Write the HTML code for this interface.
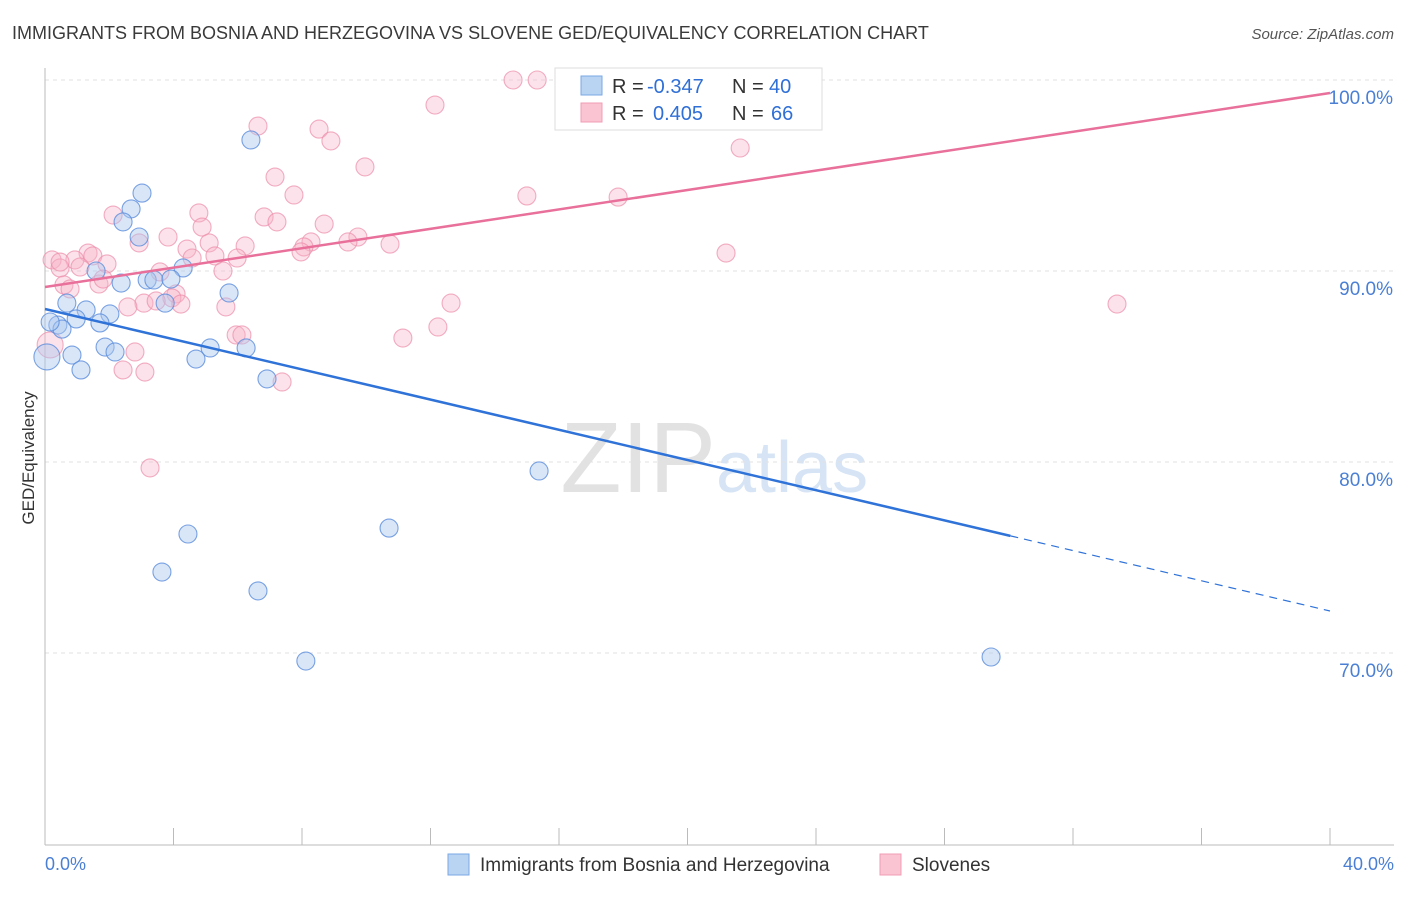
<!DOCTYPE html>
<html><head><meta charset="utf-8"><style>
body{margin:0;background:#fff;font-family:"Liberation Sans",sans-serif}
svg text{font-family:"Liberation Sans",sans-serif}
</style></head><body>
<svg id="c" width="1406" height="892">
<text x="12" y="39" font-size="18" fill="#3a3a3a">IMMIGRANTS FROM BOSNIA AND HERZEGOVINA VS SLOVENE GED/EQUIVALENCY CORRELATION CHART</text>
<text x="1394" y="39" font-size="15" fill="#555" font-style="italic" text-anchor="end">Source: ZipAtlas.com</text>
<text x="34" y="458" font-size="17" fill="#333" text-anchor="middle" transform="rotate(-90 34 458)">GED/Equivalency</text>
<text x="716" y="492" font-size="100" fill="#e2e2e2" font-family="Liberation Serif" text-anchor="end">ZIP</text>
<text x="716" y="492" font-size="72" fill="#d6e4f5">atlas</text>
<g id="grid"></g><g id="marks"></g><g id="lines"></g>
<g>
<rect x="555" y="68" width="267" height="62" fill="#fff" stroke="#ddd"/>
<rect x="581" y="76" width="21" height="19" fill="#b9d3f3" stroke="#7aa8e6"/>
<rect x="581" y="103" width="21" height="19" fill="#fac4d3" stroke="#f19db6"/>
<text x="612" y="93" font-size="20" fill="#333">R = <tspan x="647" fill="#2f6fd6">-0.347</tspan></text>
<text x="732" y="93" font-size="20" fill="#333">N = <tspan x="769" fill="#2f6fd6">40</tspan></text>
<text x="612" y="120" font-size="20" fill="#333">R = <tspan x="653" fill="#2f6fd6">0.405</tspan></text>
<text x="732" y="120" font-size="20" fill="#333">N = <tspan x="771" fill="#2f6fd6">66</tspan></text>
</g>
<g>
<rect x="448" y="854" width="21" height="21" fill="#b9d3f3" stroke="#7aa8e6"/>
<text x="480" y="871" font-size="19" fill="#333">Immigrants from Bosnia and Herzegovina</text>
<rect x="880" y="854" width="21" height="21" fill="#fac4d3" stroke="#f19db6"/>
<text x="912" y="871" font-size="19" fill="#333">Slovenes</text>
</g>
<text x="45" y="870" font-size="18" fill="#4a7fd4">0.0%</text>
<text x="1394" y="870" font-size="18" fill="#4a7fd4" text-anchor="end">40.0%</text>
</svg>
<script>
const blueX=[6.41,3.02,2.68,2.43,2.93,1.59,4.30,2.37,3.18,3.39,3.92,5.73,0.68,3.74,1.28,0.97,2.02,1.71,0.40,0.53,0.16,1.87,2.18,5.14,6.26,0.84,4.70,1.12,0.06,6.91,15.38,4.45,10.71,3.64,6.63,8.12,29.45,20.64];
const blueY=[96.86,94.08,93.25,92.57,91.78,90.0,90.16,89.37,89.53,89.53,89.58,88.85,88.32,88.32,87.96,87.49,87.75,87.28,87.17,86.96,87.33,86.02,85.76,85.97,85.97,85.60,85.39,84.82,85.50,84.35,79.53,76.23,76.54,74.24,73.25,69.58,69.79,99.11];
const pinkX=[14.57,15.32,12.14,6.63,8.53,8.90,9.96,7.16,21.64,7.75,15.00,17.84,2.12,4.79,6.82,7.22,4.89,8.69,3.83,2.93,9.74,5.11,4.42,6.23,9.43,10.74,8.28,8.06,7.97,0.22,1.34,0.93,1.49,1.93,1.09,0.47,3.58,4.58,5.29,5.98,5.54,21.20,0.59,0.78,1.68,1.81,4.08,3.08,3.95,2.58,3.46,4.23,5.63,5.95,6.13,12.64,11.14,12.23,33.37,7.38,2.80,2.43,3.11,3.27,0.16,0.47];
const pinkY=[100,100,98.69,97.59,97.43,96.81,95.45,94.92,96.44,93.98,93.93,93.87,92.93,93.04,92.83,92.57,92.30,92.46,91.78,91.47,91.78,91.47,91.15,91.31,91.52,91.41,91.52,91.26,91.0,90.58,90.94,90.58,90.79,90.37,90.21,90.16,89.95,90.68,90.79,90.68,90.0,90.94,89.27,89.06,89.32,89.58,88.80,88.32,88.59,88.12,88.43,88.27,88.12,86.65,86.65,88.32,86.49,87.07,88.27,84.19,85.76,84.82,84.71,79.69,86.13,90.47];
const yTicks=[100,90,80,70];
const xTicks=[0,4,8,12,16,20,24,28,32,36,40];
const pinkTrend=[89.16,99.32];
const blueTrend=[88.01,72.20];
const blueSolidEnd=30.05;
const X=v=>45+v/40*1285, Y=v=>80+(100-v)*19.1;
const NS='http://www.w3.org/2000/svg';
function mk(p,t,a){const e=document.createElementNS(NS,t);for(const k in a)e.setAttribute(k,a[k]);p.appendChild(e);return e;}
const g=document.getElementById('grid'),m=document.getElementById('marks'),l=document.getElementById('lines');
yTicks.forEach(t=>{
 const ln=mk(g,'line',{x1:45,x2:1394,y1:Y(t),y2:Y(t),stroke:'#e2e2e2','stroke-dasharray':'4,4'});
 
 
 const tx=mk(g,'text',{x:1393,y:Y(t)+24,'font-size':19,fill:'#4a7fd4','text-anchor':'end'});
 tx.textContent=t.toFixed(1)+'%';
 
 
});
const ax=mk(g,'line',{x1:45,x2:1394,y1:845,y2:845,stroke:'#bbb'});


const ay=mk(g,'line',{x1:45,x2:45,y1:68,y2:845,stroke:'#bbb'});


xTicks.forEach(t=>{const k=mk(g,'line',{x1:X(t),x2:X(t),y1:828,y2:845,stroke:'#bbb'});
 
 });
function pts(xs,ys,fill,stroke,name){xs.forEach((x,i)=>{
 const r=(x<0.3&&(ys[i]>85&&ys[i]<86.5))?13:9;
 const c=mk(m,'circle',{cx:X(x),cy:Y(ys[i]),r:r,fill:fill,stroke:stroke,'stroke-width':1.1});
 
 });}
pts(pinkX,pinkY,'rgba(248,180,200,0.38)','rgba(236,140,170,0.7)','slovene-point');
pts(blueX,blueY,'rgba(170,200,240,0.45)','rgba(90,140,220,0.8)','bosnia-point');
const pl=mk(l,'line',{x1:X(0),y1:Y(pinkTrend[0]),x2:X(40),y2:Y(pinkTrend[1]),stroke:'#e8709a','stroke-width':2.5});


const by=v=>blueTrend[0]+(blueTrend[1]-blueTrend[0])*v/40;
const bl=mk(l,'line',{x1:X(0),y1:Y(by(0)),x2:X(blueSolidEnd),y2:Y(by(blueSolidEnd)),stroke:'#2f72d8','stroke-width':2.5});


const bd=mk(l,'line',{x1:X(blueSolidEnd),y1:Y(by(blueSolidEnd)),x2:X(40),y2:Y(by(40)),stroke:'#2f72d8','stroke-width':1.2,'stroke-dasharray':'8,6'});


</script>
</body></html>
